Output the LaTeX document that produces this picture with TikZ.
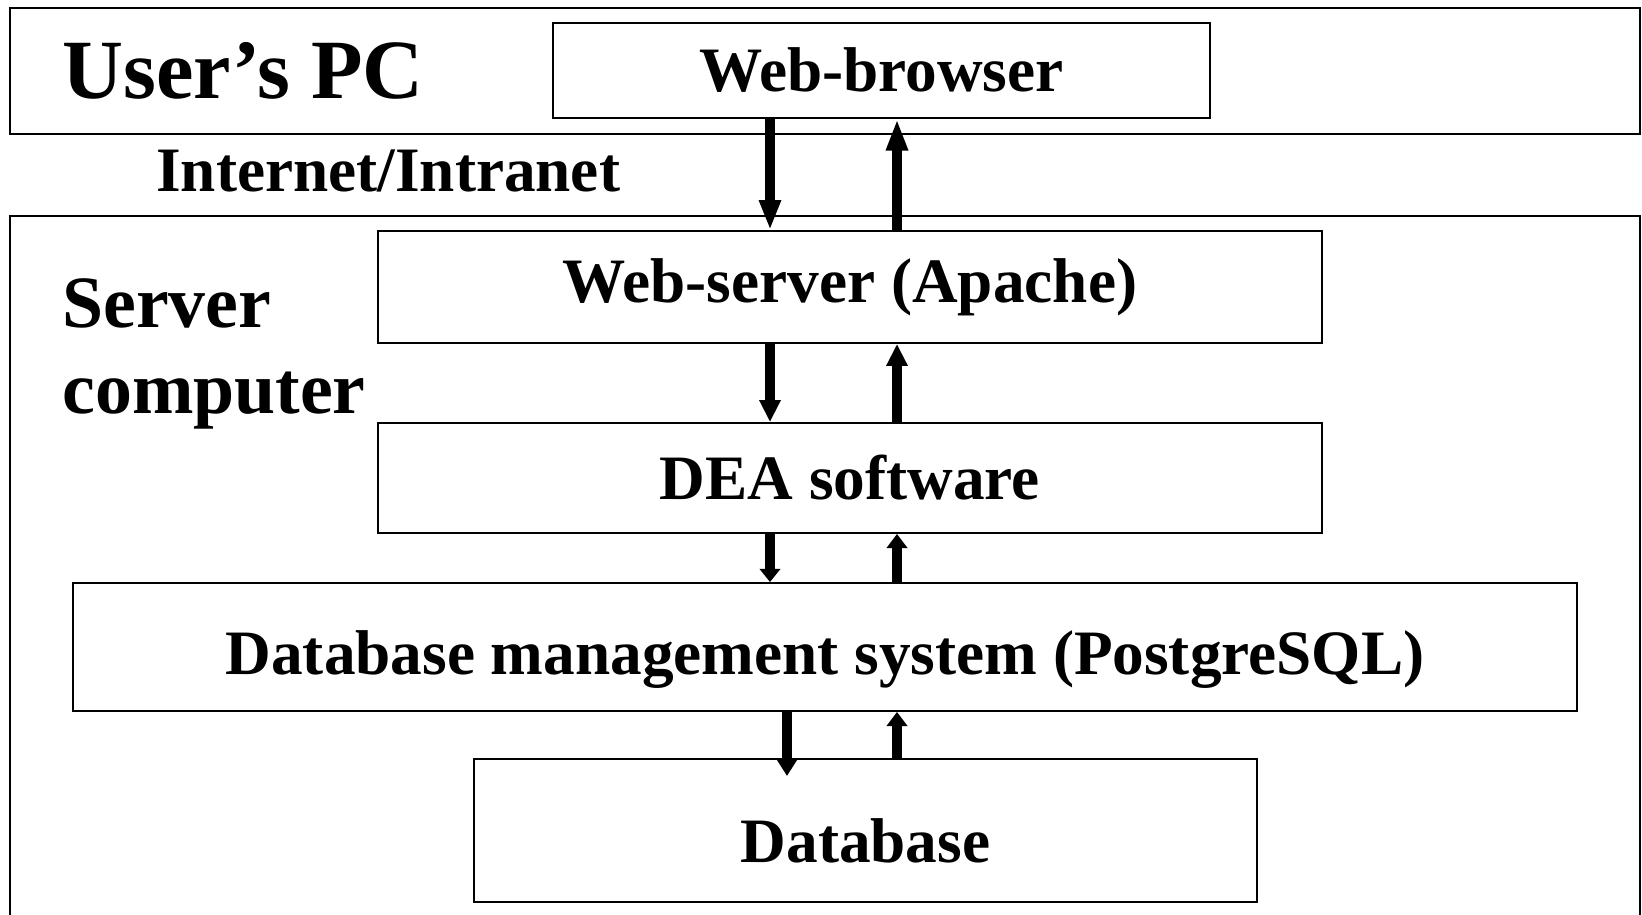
\documentclass[tikz,border=0pt]{standalone}
\usepackage{fontspec}
\setmainfont{Liberation Serif}
\usepackage{tikz}
\usetikzlibrary{arrows.meta}

\tikzset{
  frame/.style={line width=1.5pt},
  box/.style={draw, line width=1.1pt, inner sep=0pt,
    font=\fontsize{36}{43}\selectfont\bfseries},
  tag/.style={inner sep=0pt, anchor=base west},
  flow/.style={line width=5.2pt, -{Triangle[width=11.5pt,length=#1]}}
}

\begin{document}
\begin{tikzpicture}[x=0.02cm,y=-0.02cm]
                \useasboundingbox (0,0) rectangle (1642,915);
                %frames
                \draw[frame] (10,8) rectangle (1640,134);
                \draw[frame] (10,925) |- (1640,216) -- (1640,925);
                %labels
                \node[tag, font=\fontsize{48}{56}\selectfont\bfseries] (pc) at (62,99) {User's PC};
                \node[tag, font=\fontsize{36}{43}\selectfont\bfseries] (net) at (156,192) {Internet/Intranet};
                \node[tag, font=\fontsize{42}{48}\selectfont\bfseries] (srv) at (62,328) {Server};
                \node[tag, font=\fontsize{42}{48}\selectfont\bfseries] (comp) at (62,413) {computer};
                %boxes
                \node[box, minimum width=13.14cm, minimum height=1.9cm] (browser) at (881.5,70.5) {Web-browser};
                \node[box, minimum width=18.88cm, minimum height=2.24cm] (websrv) at (850,287) {Web-server (Apache)};
                \node[box, minimum width=18.88cm, minimum height=2.2cm] (dea) at (850,478) {DEA software};
                \node[box, minimum width=30.08cm, minimum height=2.56cm, text height=31pt, text depth=0pt] (dbms) at (825,647) {Database management system (PostgreSQL)};
                \node[box, minimum width=15.66cm, minimum height=2.86cm, text height=36pt, text depth=0pt] (db) at (865.5,830.5) {Database};
                %arrows
                \coordinate (dn) at (770,0);
                \coordinate (up) at (897,0);
                \coordinate (dbtip) at (787,776);
                \foreach \a/\b/\len in {browser/websrv/17pt, websrv/dea/12.5pt, dea/dbms/7.5pt}
                    \draw[flow=\len] (\a.south -| dn) -- (\b.north -| dn);
                \foreach \a/\b/\len in {websrv/browser/18pt, dea/websrv/12.5pt, dbms/dea/8pt, db/dbms/8pt}
                    \draw[flow=\len] (\a.north -| up) -- (\b.south -| up);
                \draw[flow=9.7pt] (dbms.south -| dbtip) -- (dbtip);
            \end{tikzpicture}
\end{document}
